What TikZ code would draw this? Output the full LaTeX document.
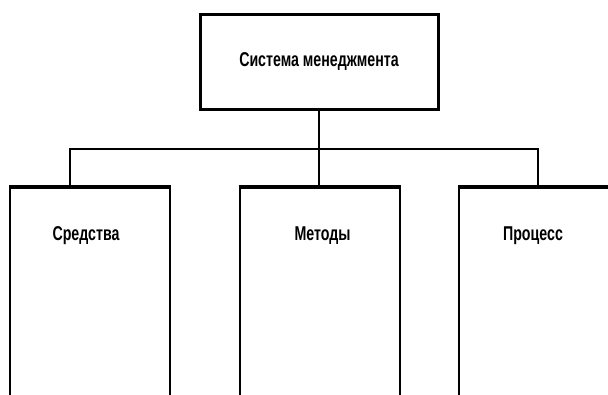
\documentclass[tikz,border=0pt]{standalone}
\usepackage{fontspec}
\setmainfont{Liberation Sans}[FakeStretch=0.71]
\tikzset{
  topbox/.style={draw, line width=3pt, minimum width=238pt, minimum height=95pt, inner sep=0pt},
  childbox/.style={draw, line width=2pt, minimum width=160pt, minimum height=260pt, anchor=north, inner sep=0pt},
  boxtext/.style={font=\bfseries\fontsize{20}{22}\selectfont}
}
\begin{document}
\begin{tikzpicture}[x=1pt,y=-1pt]
      \useasboundingbox (0,0) rectangle (608,394);
      \clip (0,0) rectangle (608,394);
      \node[topbox, boxtext] (sys) at (319,61.5) {Система менеджмента};
      \node[childbox] (sr) at (90,187) {};
      \node[childbox] (me) at (319.5,187) {};
      \node[childbox] (pr) at (539,187) {};
      \draw[line width=4pt] (sr.north west) -- (sr.north east);
      \draw[line width=4pt] (me.north west) -- (me.north east);
      \draw[line width=4pt] (pr.north west) -- (pr.north east);
      \node[boxtext] (srt) at ([xshift=-4pt,yshift=-49pt]sr.north) {Средства};
      \node[boxtext] (met) at ([xshift=3pt,yshift=-49pt]me.north) {Методы};
      \node[boxtext] (prt) at ([xshift=-6pt,yshift=-49pt]pr.north) {Процесс};
      \coordinate (bus) at (319,149);
      \begin{scope}[line width=2.5pt]
        \draw (sys.south) to (bus);
        \draw ([xshift=-20pt]sr.north) |- (bus);
        \draw (bus) -| ([xshift=-1pt]pr.north);
        \draw (bus) to ([xshift=-0.5pt]me.north);
      \end{scope}
    \end{tikzpicture}
\end{document}
